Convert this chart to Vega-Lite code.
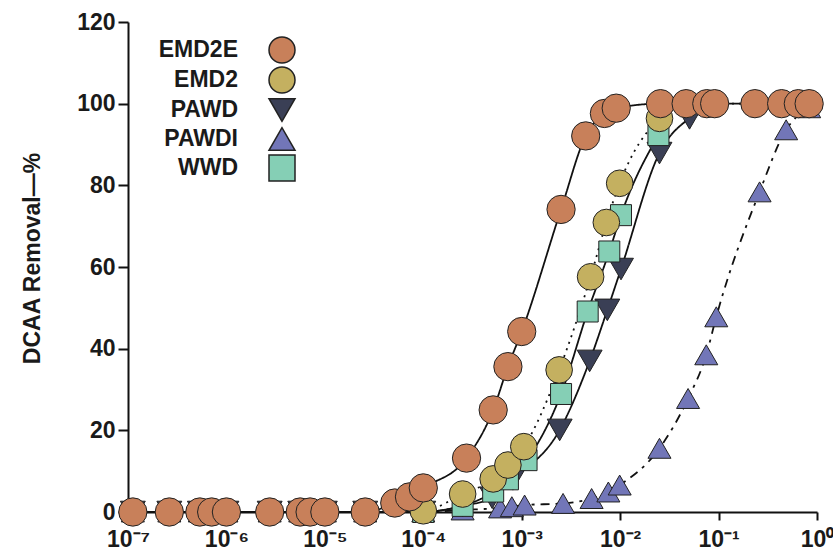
{
  "$schema": "https://vega.github.io/schema/vega-lite/v6.json",
  "width": 689,
  "height": 490,
  "autosize": "none",
  "padding": {"left": 128, "top": 22, "right": 16, "bottom": 44},
  "background": "white",
  "config": {
    "view": {"stroke": null},
    "font": "Liberation Sans"
  },
  "datasets": {
    "d": [
      {"series": "PAWDI", "conc": 1.12e-7, "removal": 0},
      {"series": "PAWDI", "conc": 2.63e-7, "removal": 0},
      {"series": "PAWDI", "conc": 5.37e-7, "removal": 0},
      {"series": "PAWDI", "conc": 7.08e-7, "removal": 0},
      {"series": "PAWDI", "conc": 1e-6, "removal": 0},
      {"series": "PAWDI", "conc": 2.75e-6, "removal": 0},
      {"series": "PAWDI", "conc": 5.62e-6, "removal": 0},
      {"series": "PAWDI", "conc": 7.08e-6, "removal": 0},
      {"series": "PAWDI", "conc": 1e-5, "removal": 0},
      {"series": "PAWDI", "conc": 2.57e-5, "removal": 0},
      {"series": "PAWDI", "conc": 1e-4, "removal": 0},
      {"series": "PAWDI", "conc": 2.51e-4, "removal": 0.5},
      {"series": "PAWDI", "conc": 6.03e-4, "removal": 1.0},
      {"series": "PAWDI", "conc": 7.94e-4, "removal": 1.3},
      {"series": "PAWDI", "conc": 1.07e-3, "removal": 1.7},
      {"series": "PAWDI", "conc": 2.63e-3, "removal": 2.1},
      {"series": "PAWDI", "conc": 5.13e-3, "removal": 3.3},
      {"series": "PAWDI", "conc": 7.59e-3, "removal": 4.9},
      {"series": "PAWDI", "conc": 9.89e-3, "removal": 6.6},
      {"series": "PAWDI", "conc": 2.51e-2, "removal": 15.6},
      {"series": "PAWDI", "conc": 4.9e-2, "removal": 27.8},
      {"series": "PAWDI", "conc": 7.5e-2, "removal": 38.5},
      {"series": "PAWDI", "conc": 9.48e-2, "removal": 47.8},
      {"series": "PAWDI", "conc": 0.261, "removal": 78.4},
      {"series": "PAWDI", "conc": 0.486, "removal": 93.6},
      {"series": "PAWDI", "conc": 0.832, "removal": 99},

      {"series": "PAWD", "conc": 1.12e-7, "removal": 0},
      {"series": "PAWD", "conc": 2.63e-7, "removal": 0},
      {"series": "PAWD", "conc": 5.37e-7, "removal": 0},
      {"series": "PAWD", "conc": 7.08e-7, "removal": 0},
      {"series": "PAWD", "conc": 1e-6, "removal": 0},
      {"series": "PAWD", "conc": 2.75e-6, "removal": 0},
      {"series": "PAWD", "conc": 5.62e-6, "removal": 0},
      {"series": "PAWD", "conc": 7.08e-6, "removal": 0},
      {"series": "PAWD", "conc": 1e-5, "removal": 0},
      {"series": "PAWD", "conc": 2.57e-5, "removal": 0},
      {"series": "PAWD", "conc": 1e-4, "removal": 0},
      {"series": "PAWD", "conc": 2.51e-4, "removal": 1.5},
      {"series": "PAWD", "conc": 5.01e-4, "removal": 3.5},
      {"series": "PAWD", "conc": 8.13e-4, "removal": 8.0},
      {"series": "PAWD", "conc": 2.43e-3, "removal": 20.1},
      {"series": "PAWD", "conc": 4.9e-3, "removal": 37.0},
      {"series": "PAWD", "conc": 7.41e-3, "removal": 49.5},
      {"series": "PAWD", "conc": 1.02e-2, "removal": 59.5},
      {"series": "PAWD", "conc": 2.51e-2, "removal": 87.9},
      {"series": "PAWD", "conc": 5.07e-2, "removal": 96.4},

      {"series": "WWD", "conc": 1e-4, "removal": 0},
      {"series": "WWD", "conc": 2.51e-4, "removal": 1.5},
      {"series": "WWD", "conc": 5.13e-4, "removal": 5},
      {"series": "WWD", "conc": 7.24e-4, "removal": 8},
      {"series": "WWD", "conc": 1.12e-3, "removal": 12.7},
      {"series": "WWD", "conc": 2.51e-3, "removal": 28.9},
      {"series": "WWD", "conc": 4.68e-3, "removal": 49.1},
      {"series": "WWD", "conc": 7.76e-3, "removal": 63.8},
      {"series": "WWD", "conc": 1.02e-2, "removal": 72.7},
      {"series": "WWD", "conc": 2.45e-2, "removal": 92.3},

      {"series": "EMD2", "conc": 1.12e-7, "removal": 0},
      {"series": "EMD2", "conc": 2.63e-7, "removal": 0},
      {"series": "EMD2", "conc": 5.37e-7, "removal": 0},
      {"series": "EMD2", "conc": 7.08e-7, "removal": 0},
      {"series": "EMD2", "conc": 1e-6, "removal": 0},
      {"series": "EMD2", "conc": 2.75e-6, "removal": 0},
      {"series": "EMD2", "conc": 5.62e-6, "removal": 0},
      {"series": "EMD2", "conc": 7.08e-6, "removal": 0},
      {"series": "EMD2", "conc": 1e-5, "removal": 0},
      {"series": "EMD2", "conc": 2.57e-5, "removal": 0},
      {"series": "EMD2", "conc": 1e-4, "removal": 0.3},
      {"series": "EMD2", "conc": 2.51e-4, "removal": 4.4},
      {"series": "EMD2", "conc": 5.13e-4, "removal": 8.1},
      {"series": "EMD2", "conc": 7.24e-4, "removal": 11.5},
      {"series": "EMD2", "conc": 1.05e-3, "removal": 16.0},
      {"series": "EMD2", "conc": 2.4e-3, "removal": 34.8},
      {"series": "EMD2", "conc": 5.01e-3, "removal": 57.6},
      {"series": "EMD2", "conc": 7.24e-3, "removal": 70.9},
      {"series": "EMD2", "conc": 9.89e-3, "removal": 80.5},
      {"series": "EMD2", "conc": 2.51e-2, "removal": 96.4},
      {"series": "EMD2", "conc": 4.68e-2, "removal": 100},
      {"series": "EMD2", "conc": 9.12e-2, "removal": 100},
      {"series": "EMD2", "conc": 0.234, "removal": 100},
      {"series": "EMD2", "conc": 0.832, "removal": 100},

      {"series": "EMD2E", "conc": 1.12e-7, "removal": 0},
      {"series": "EMD2E", "conc": 2.63e-7, "removal": 0},
      {"series": "EMD2E", "conc": 5.37e-7, "removal": 0},
      {"series": "EMD2E", "conc": 7.08e-7, "removal": 0},
      {"series": "EMD2E", "conc": 1e-6, "removal": 0},
      {"series": "EMD2E", "conc": 2.75e-6, "removal": 0},
      {"series": "EMD2E", "conc": 5.62e-6, "removal": 0},
      {"series": "EMD2E", "conc": 7.08e-6, "removal": 0},
      {"series": "EMD2E", "conc": 1e-5, "removal": 0},
      {"series": "EMD2E", "conc": 2.57e-5, "removal": 0},
      {"series": "EMD2E", "conc": 5.13e-5, "removal": 2.2},
      {"series": "EMD2E", "conc": 7.24e-5, "removal": 3.7},
      {"series": "EMD2E", "conc": 1e-4, "removal": 5.9},
      {"series": "EMD2E", "conc": 2.75e-4, "removal": 13.2},
      {"series": "EMD2E", "conc": 5.13e-4, "removal": 25.0},
      {"series": "EMD2E", "conc": 7.24e-4, "removal": 35.6},
      {"series": "EMD2E", "conc": 1e-3, "removal": 44.2},
      {"series": "EMD2E", "conc": 2.51e-3, "removal": 74.1},
      {"series": "EMD2E", "conc": 4.47e-3, "removal": 92.1},
      {"series": "EMD2E", "conc": 6.92e-3, "removal": 97.6},
      {"series": "EMD2E", "conc": 9.12e-3, "removal": 98.9},
      {"series": "EMD2E", "conc": 2.57e-2, "removal": 100},
      {"series": "EMD2E", "conc": 4.68e-2, "removal": 100},
      {"series": "EMD2E", "conc": 7.59e-2, "removal": 100},
      {"series": "EMD2E", "conc": 9.12e-2, "removal": 100},
      {"series": "EMD2E", "conc": 0.234, "removal": 100},
      {"series": "EMD2E", "conc": 0.437, "removal": 100},
      {"series": "EMD2E", "conc": 0.646, "removal": 100},
      {"series": "EMD2E", "conc": 0.832, "removal": 100}
    ]
  },
  "data": {"name": "d"},
  "encoding": {
    "x": {
      "field": "conc",
      "type": "quantitative",
      "scale": {"type": "log", "domain": [1e-7, 1], "nice": false},
      "axis": {
        "title": null,
        "grid": false,
        "values": [1e-7, 1e-6, 1e-5, 1e-4, 1e-3, 1e-2, 1e-1, 1],
        "labelExpr": "'10' + ['⁻⁷','⁻⁶','⁻⁵','⁻⁴','⁻³','⁻²','⁻¹','⁰'][round(log(datum.value)/LN10)+7]",
        "labelFontSize": 23,
        "labelFontWeight": "bold",
        "labelColor": "#1a1a1a",
        "labelPadding": 8,
        "labelFlush": false,
        "labelOverlap": false,
        "tickSize": 8,
        "tickWidth": 2,
        "tickColor": "#111",
        "domainColor": "#111",
        "domainWidth": 2
      }
    },
    "y": {
      "field": "removal",
      "type": "quantitative",
      "scale": {"domain": [0, 120], "nice": false},
      "axis": {
        "title": "DCAA Removal—%",
        "titleFontSize": 23,
        "titleFontWeight": "bold",
        "titleColor": "#1a1a1a",
        "titleAngle": 270,
        "titleAlign": "center",
        "titleBaseline": "bottom",
        "titleX": -84,
        "titleY": 236,
        "grid": false,
        "values": [0, 20, 40, 60, 80, 100, 120],
        "labelFontSize": 23,
        "labelFontWeight": "bold",
        "labelColor": "#1a1a1a",
        "labelPadding": 3,
        "tickSize": 10,
        "tickWidth": 2,
        "tickColor": "#111",
        "domainColor": "#111",
        "domainWidth": 2
      }
    }
  },
  "layer": [
    {
      "mark": {"type": "line", "color": "#111", "strokeWidth": 1.8, "interpolate": "monotone", "clip": false},
      "encoding": {
        "detail": {"field": "series", "type": "nominal"},
        "strokeDash": {
          "field": "series",
          "type": "nominal",
          "scale": {
            "domain": ["WWD", "PAWDI", "PAWD", "EMD2", "EMD2E"],
            "range": [[1, 0], [9, 6, 3, 6], [1, 0], [2, 5], [1, 0]]
          },
          "legend": null
        }
      }
    },
    {
      "mark": {"type": "point", "filled": true, "opacity": 1, "stroke": "#222", "strokeWidth": 1, "clip": false},
      "encoding": {
        "fill": {
          "field": "series",
          "type": "nominal",
          "title": null,
          "scale": {
            "domain": ["EMD2E", "EMD2", "PAWD", "PAWDI", "WWD"],
            "range": ["#C8805A", "#C4B060", "#3A3F55", "#7276B8", "#85CFB5"]
          },
          "legend": {
            "orient": "none",
            "legendX": 140,
            "legendY": 14,
            "padding": 0,
            "rowPadding": -2,
            "labelAlign": "right",
            "labelOffset": -58,
            "labelFontSize": 23,
            "labelFontWeight": "bold",
            "labelColor": "#1a1a1a",
            "labelLimit": 0,
            "symbolSize": 676
          }
        },
        "shape": {
          "field": "series",
          "type": "nominal",
          "title": null,
          "scale": {
            "domain": ["EMD2E", "EMD2", "PAWD", "PAWDI", "WWD"],
            "range": ["circle", "circle", "triangle-down", "triangle-up", "square"]
          }
        },
        "size": {
          "field": "series",
          "type": "nominal",
          "scale": {
            "domain": ["WWD", "PAWDI", "PAWD", "EMD2", "EMD2E"],
            "range": [441, 800, 760, 529, 529]
          },
          "legend": null
        }
      }
    }
  ]
}
